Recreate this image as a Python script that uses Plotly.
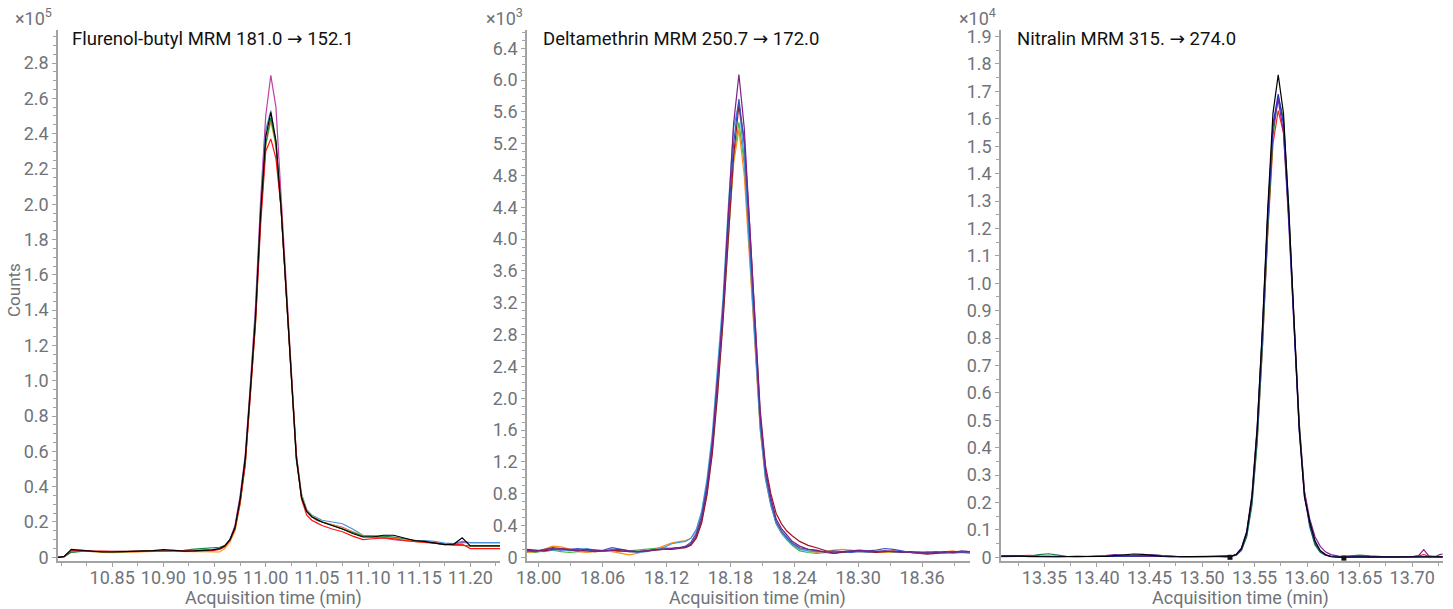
import plotly.graph_objects as go

# ---------------- Panel 1: Flurenol-butyl (counts x1e5) ----------------
P1_TIME = [10.797, 10.803, 10.810, 10.820, 10.830, 10.840, 10.850, 10.860, 10.870, 10.880,
           10.890, 10.900, 10.910, 10.920, 10.930, 10.940, 10.948,
           10.955, 10.960, 10.965, 10.970, 10.975, 10.980, 10.985, 10.990, 10.995, 11.000,
           11.005, 11.010, 11.015, 11.020, 11.025, 11.030, 11.035, 11.040, 11.045, 11.050,
           11.055, 11.065, 11.075, 11.085, 11.095, 11.105, 11.115, 11.125, 11.135, 11.145,
           11.155, 11.165, 11.175, 11.184, 11.192, 11.200, 11.229]
P1_MAGENTA = [0, 0.003, 0.030, 0.035, 0.033, 0.032, 0.031, 0.030, 0.031, 0.034, 0.036, 0.038, 0.037, 0.035, 0.036, 0.039, 0.041,
              0.048, 0.062, 0.10, 0.18, 0.35, 0.58, 0.98, 1.42, 2.02, 2.50, 2.73, 2.55, 2.05, 1.54, 1.02, 0.57, 0.35, 0.27, 0.235, 0.21,
              0.20, 0.185, 0.17, 0.145, 0.12, 0.115, 0.11, 0.10, 0.095, 0.09, 0.085, 0.08, 0.075, 0.075, 0.085, 0.083, 0.083]
P1_BLUE = [0, 0.003, 0.035, 0.038, 0.032, 0.031, 0.032, 0.033, 0.034, 0.036, 0.039, 0.042, 0.040, 0.036, 0.037, 0.040, 0.043,
           0.05, 0.066, 0.10, 0.17, 0.33, 0.56, 0.96, 1.38, 1.97, 2.42, 2.53, 2.35, 1.98, 1.50, 1.01, 0.58, 0.36, 0.27, 0.24, 0.225,
           0.21, 0.20, 0.19, 0.16, 0.125, 0.12, 0.115, 0.11, 0.10, 0.09, 0.095, 0.09, 0.08, 0.078, 0.09, 0.083, 0.083]
P1_ORANGE = [0, 0.003, 0.032, 0.036, 0.034, 0.028, 0.027, 0.029, 0.031, 0.032, 0.033, 0.035, 0.034, 0.033, 0.032, 0.033, 0.030,
             0.030, 0.05, 0.085, 0.15, 0.30, 0.52, 0.92, 1.33, 1.92, 2.33, 2.47, 2.33, 1.98, 1.50, 1.00, 0.56, 0.35, 0.265, 0.235, 0.215,
             0.20, 0.185, 0.165, 0.145, 0.125, 0.12, 0.115, 0.11, 0.10, 0.09, 0.085, 0.08, 0.072, 0.07, 0.068, 0.064, 0.064]
P1_GREEN = [0, 0.004, 0.028, 0.034, 0.033, 0.031, 0.030, 0.031, 0.033, 0.034, 0.037, 0.040, 0.039, 0.040, 0.046, 0.052, 0.054,
            0.057, 0.066, 0.095, 0.16, 0.31, 0.53, 0.92, 1.33, 1.92, 2.34, 2.49, 2.34, 1.97, 1.49, 0.99, 0.55, 0.34, 0.26, 0.23, 0.21,
            0.20, 0.18, 0.16, 0.14, 0.12, 0.12, 0.12, 0.115, 0.105, 0.095, 0.088, 0.08, 0.072, 0.07, 0.065, 0.064, 0.064]
P1_RED = [0, 0.003, 0.038, 0.040, 0.036, 0.033, 0.033, 0.034, 0.035, 0.034, 0.036, 0.038, 0.037, 0.036, 0.036, 0.037, 0.038,
          0.045, 0.06, 0.095, 0.16, 0.31, 0.53, 0.92, 1.32, 1.88, 2.30, 2.37, 2.26, 1.98, 1.54, 1.04, 0.58, 0.33, 0.24, 0.21, 0.195,
          0.18, 0.16, 0.145, 0.12, 0.10, 0.105, 0.11, 0.105, 0.095, 0.09, 0.088, 0.082, 0.075, 0.07, 0.075, 0.049, 0.049]
P1_BLACK = [0, 0.005, 0.045, 0.040, 0.033, 0.030, 0.030, 0.031, 0.033, 0.035, 0.038, 0.043, 0.038, 0.035, 0.036, 0.038, 0.042,
            0.050, 0.065, 0.10, 0.17, 0.33, 0.56, 0.95, 1.36, 1.95, 2.38, 2.52, 2.36, 1.98, 1.50, 1.00, 0.56, 0.34, 0.26, 0.23, 0.215,
            0.20, 0.18, 0.16, 0.135, 0.115, 0.115, 0.125, 0.125, 0.11, 0.095, 0.09, 0.082, 0.072, 0.075, 0.11, 0.065, 0.065]

# ---------------- Panel 2: Deltamethrin (counts x1e3) ----------------
P2_TIME = [17.989, 17.997, 18.005, 18.013, 18.021, 18.029, 18.037, 18.045, 18.053, 18.061,
           18.069, 18.077, 18.085, 18.093, 18.101, 18.109, 18.117, 18.125, 18.133,
           18.138, 18.143, 18.148, 18.153, 18.158, 18.163, 18.168, 18.173, 18.178, 18.183, 18.188,
           18.193, 18.198, 18.203, 18.208, 18.213, 18.218, 18.223, 18.228, 18.233, 18.238,
           18.245, 18.253, 18.261, 18.269, 18.277, 18.285, 18.293, 18.301, 18.309, 18.317,
           18.325, 18.333, 18.341, 18.349, 18.357, 18.365, 18.373, 18.381, 18.389, 18.397, 18.405]
P2_PURPLE = [0.09, 0.08, 0.09, 0.12, 0.11, 0.09, 0.08, 0.10, 0.09, 0.08, 0.09, 0.10, 0.08, 0.07, 0.08, 0.09, 0.10, 0.11, 0.12,
             0.13, 0.17, 0.27, 0.48, 0.85, 1.40, 2.20, 3.10, 4.30, 5.45, 6.07, 5.40, 4.20, 2.95, 1.80, 1.10, 0.75, 0.48, 0.36, 0.28, 0.20,
             0.14, 0.10, 0.09, 0.06, 0.05, 0.07, 0.08, 0.09, 0.08, 0.07, 0.08, 0.07, 0.06, 0.07, 0.06, 0.05, 0.06, 0.07, 0.06, 0.08, 0.07]
P2_DARKBLUE = [0.08, 0.07, 0.10, 0.11, 0.09, 0.10, 0.11, 0.09, 0.08, 0.09, 0.12, 0.10, 0.08, 0.07, 0.08, 0.10, 0.10, 0.11, 0.12,
               0.14, 0.19, 0.30, 0.52, 0.90, 1.45, 2.22, 3.10, 4.20, 5.20, 5.76, 5.20, 4.05, 2.85, 1.72, 1.05, 0.70, 0.45, 0.33, 0.25, 0.18,
               0.12, 0.10, 0.08, 0.07, 0.08, 0.07, 0.06, 0.07, 0.08, 0.09, 0.11, 0.10, 0.08, 0.06, 0.05, 0.06, 0.07, 0.06, 0.07, 0.06, 0.07]
P2_LIGHTBLUE = [0.07, 0.08, 0.07, 0.09, 0.10, 0.08, 0.10, 0.11, 0.09, 0.08, 0.09, 0.08, 0.07, 0.06, 0.07, 0.09, 0.12, 0.17, 0.19,
                0.20, 0.24, 0.35, 0.58, 0.98, 1.55, 2.35, 3.25, 4.40, 5.40, 5.72, 5.00, 3.85, 2.70, 1.62, 0.98, 0.65, 0.42, 0.31, 0.23, 0.16,
                0.10, 0.08, 0.07, 0.07, 0.06, 0.07, 0.08, 0.07, 0.06, 0.07, 0.08, 0.07, 0.06, 0.07, 0.06, 0.07, 0.06, 0.05, 0.06, 0.07, 0.06]
P2_DARKRED = [0.10, 0.09, 0.08, 0.10, 0.11, 0.10, 0.09, 0.08, 0.07, 0.08, 0.09, 0.08, 0.07, 0.07, 0.08, 0.09, 0.10, 0.10, 0.11,
              0.12, 0.15, 0.24, 0.43, 0.78, 1.30, 2.05, 2.95, 4.05, 5.05, 5.68, 5.25, 4.20, 3.00, 1.85, 1.15, 0.80, 0.55, 0.42, 0.33, 0.27,
              0.20, 0.15, 0.12, 0.08, 0.05, 0.06, 0.07, 0.08, 0.07, 0.06, 0.07, 0.08, 0.07, 0.06, 0.05, 0.04, 0.05, 0.06, 0.07, 0.06, 0.07]
P2_GREEN = [0.07, 0.06, 0.08, 0.09, 0.07, 0.06, 0.07, 0.08, 0.09, 0.08, 0.08, 0.07, 0.08, 0.09, 0.10, 0.11, 0.12, 0.11, 0.12,
            0.13, 0.16, 0.25, 0.45, 0.80, 1.33, 2.10, 2.98, 4.05, 5.00, 5.47, 4.95, 3.90, 2.75, 1.65, 1.00, 0.66, 0.42, 0.30, 0.22, 0.15,
            0.08, 0.06, 0.05, 0.06, 0.07, 0.06, 0.07, 0.08, 0.07, 0.06, 0.07, 0.06, 0.07, 0.06, 0.07, 0.06, 0.05, 0.06, 0.05, 0.06, 0.05]
P2_ORANGE = [0.06, 0.07, 0.10, 0.14, 0.13, 0.10, 0.07, 0.06, 0.07, 0.08, 0.07, 0.05, 0.03, 0.05, 0.08, 0.10, 0.14, 0.18, 0.20,
             0.21, 0.24, 0.33, 0.55, 0.92, 1.45, 2.22, 3.08, 4.10, 4.95, 5.38, 4.80, 3.75, 2.65, 1.60, 0.98, 0.66, 0.43, 0.32, 0.24, 0.17,
             0.11, 0.08, 0.06, 0.07, 0.09, 0.10, 0.09, 0.07, 0.06, 0.07, 0.06, 0.07, 0.06, 0.07, 0.06, 0.05, 0.06, 0.07, 0.08, 0.06, 0.07]

# ---------------- Panel 3: Nitralin (counts x1e4) ----------------
P3_TIME = [13.309, 13.318, 13.327, 13.336, 13.345, 13.354, 13.363, 13.372, 13.381, 13.390,
           13.399, 13.408, 13.417, 13.426, 13.435, 13.444, 13.453, 13.462, 13.471, 13.480,
           13.490, 13.500, 13.510, 13.517,
           13.5225, 13.5275, 13.5325, 13.5375, 13.5425, 13.5475, 13.5525, 13.5575, 13.5625, 13.5675, 13.5725,
           13.5775, 13.5825, 13.5875, 13.5925, 13.5975, 13.6025, 13.6075, 13.6125, 13.6175, 13.6225,
           13.630, 13.640, 13.650, 13.660, 13.670, 13.680, 13.690, 13.700, 13.706, 13.711, 13.716, 13.722, 13.726, 13.729]
P3_RED = [0.004, 0.005, 0.006, 0.007, 0.005, 0.004, 0.003, 0.003, 0.004, 0.003, 0.003, 0.004, 0.003, 0.004, 0.003, 0.003, 0.004, 0.003, 0.002, 0.002, 0.002, 0.002, 0.002, 0.002,
          0.001, 0.003, 0.008, 0.026, 0.08, 0.20, 0.43, 0.77, 1.18, 1.51, 1.63, 1.55, 1.25, 0.85, 0.49, 0.24, 0.12, 0.05, 0.02, 0.008, 0.003,
          0.002, 0.002, 0.003, 0.002, 0.002, 0.003, 0.002, 0.003, 0.005, 0.010, 0.004, 0.003, 0.004, 0.003]
P3_GREEN = [0.002, 0.003, 0.002, 0.004, 0.010, 0.013, 0.008, 0.003, 0.002, 0.002, 0.003, 0.002, 0.003, 0.004, 0.005, 0.006, 0.009, 0.006, 0.003, 0.002, 0.002, 0.001, 0.002, 0.002,
            0.001, 0.003, 0.008, 0.025, 0.075, 0.19, 0.42, 0.77, 1.19, 1.54, 1.68, 1.60, 1.28, 0.86, 0.49, 0.23, 0.11, 0.045, 0.018, 0.008, 0.004,
            0.002, 0.006, 0.008, 0.005, 0.002, 0.001, 0.002, 0.001, 0.001, 0.001, 0.002, 0.001, 0.001, 0.001]
P3_PURPLE = [0.004, 0.005, 0.003, 0.003, 0.002, 0.003, 0.002, 0.003, 0.003, 0.004, 0.003, 0.006, 0.010, 0.007, 0.006, 0.008, 0.009, 0.006, 0.003, 0.002, 0.002, 0.002, 0.002, 0.002,
             0.002, 0.004, 0.011, 0.034, 0.095, 0.23, 0.48, 0.83, 1.25, 1.57, 1.67, 1.55, 1.22, 0.82, 0.47, 0.24, 0.14, 0.075, 0.04, 0.02, 0.01,
             0.004, 0.003, 0.002, 0.002, 0.002, 0.001, 0.002, 0.002, 0.006, 0.028, 0.004, 0.002, 0.010, 0.012]
P3_BLUE = [0.003, 0.004, 0.004, 0.002, 0.001, 0.002, 0.003, 0.002, 0.002, 0.003, 0.002, 0.003, 0.004, 0.003, 0.004, 0.005, 0.004, 0.003, 0.002, 0.002, 0.002, 0.002, 0.002, 0.002,
           0.002, 0.004, 0.01, 0.03, 0.09, 0.22, 0.46, 0.82, 1.24, 1.58, 1.69, 1.58, 1.24, 0.82, 0.46, 0.22, 0.12, 0.055, 0.022, 0.009, 0.003,
           0.001, 0.002, 0.002, 0.001, 0.002, 0.001, 0.001, 0.002, 0.002, 0.001, 0.001, 0.002, 0.001, 0.001]
P3_BLACK = [0.004, 0.005, 0.004, 0.003, 0.002, 0.003, 0.002, 0.003, 0.002, 0.003, 0.004, 0.003, 0.006, 0.009, 0.012, 0.011, 0.006, 0.003, 0.002, 0.002, 0.002, 0.002, 0.002, 0.002,
            0.002, 0.004, 0.010, 0.032, 0.09, 0.22, 0.47, 0.84, 1.27, 1.62, 1.76, 1.62, 1.27, 0.84, 0.47, 0.22, 0.13, 0.06, 0.025, 0.01, 0.002,
            0.001, 0.001, 0.002, 0.002, 0.001, 0.001, 0.002, 0.001, 0.001, 0.002, 0.001, 0.001, 0.002, 0.002]
P3_MARK_TIME = [13.5266, 13.6350]
P3_MARK_VAL = [0.0, -0.003]

# ---------------- tick labels ----------------
P1_XTICKS = [10.85, 10.90, 10.95, 11.00, 11.05, 11.10, 11.15, 11.20]
P2_XTICKS = [18.00, 18.06, 18.12, 18.18, 18.24, 18.30, 18.36]
P3_XTICKS = [13.35, 13.40, 13.45, 13.50, 13.55, 13.60, 13.65, 13.70]
P1_YTICKS = [0, 0.2, 0.4, 0.6, 0.8, 1.0, 1.2, 1.4, 1.6, 1.8, 2.0, 2.2, 2.4, 2.6, 2.8]
P2_YTICKS = [0, 0.4, 0.8, 1.2, 1.6, 2.0, 2.4, 2.8, 3.2, 3.6, 4.0, 4.4, 4.8, 5.2, 5.6, 6.0, 6.4]
P3_YTICKS = [0, 0.1, 0.2, 0.3, 0.4, 0.5, 0.6, 0.7, 0.8, 0.9, 1.0, 1.1, 1.2, 1.3, 1.4, 1.5, 1.6, 1.7, 1.8, 1.9]
TITLE_NAMES = ["Flurenol-butyl MRM 181.0", "Deltamethrin MRM 250.7", "Nitralin MRM 315."]
TITLE_PRODUCTS = ["152.1", "172.0", "274.0"]
EXPONENTS = ["5", "3", "4"]

W, H = 1453, 609
MT, MB = 30, 48
PH = H - MT - MB
FONT = "Roboto"
GRAY = "#707378"
AXC = "#a3a3a3"


def px(x):
    return x / W


def py(y):
    return (H - MB - y) / PH


def lab(v):
    return "0" if v == 0 else f"{v:.1f}"


panels = [
    dict(time=P1_TIME, series=[(P1_MAGENTA, "#c23fa6"), (P1_BLUE, "#4a8fd8"), (P1_ORANGE, "#ff9f1a"),
                               (P1_GREEN, "#118a43"), (P1_RED, "#ff1010"), (P1_BLACK, "#000000")],
         dom=(58, 500), xr=(10.797, 11.229), yr=(-0.021, 2.987), xt=P1_XTICKS, xminor=0.025, xm0=10.80,
         yt=P1_YTICKS, yminor=0.05, title_x=70, exp_x=54, xtitle_x=273),
    dict(time=P2_TIME, series=[(P2_GREEN, "#3cbf3c"), (P2_ORANGE, "#ff8c1a"), (P2_LIGHTBLUE, "#3d9be0"),
                               (P2_DARKRED, "#a3141e"), (P2_DARKBLUE, "#3552c4"), (P2_PURPLE, "#7d1f86")],
         dom=(527, 970), xr=(17.989, 18.405), yr=(-0.047, 6.63), xt=P2_XTICKS, xminor=0.03, xm0=18.00,
         yt=P2_YTICKS, yminor=0.1, title_x=541, exp_x=525, xtitle_x=757),
    dict(time=P3_TIME, series=[(P3_RED, "#ff2020"), (P3_GREEN, "#0f8040"), (P3_PURPLE, "#84209a"),
                               (P3_BLUE, "#2430c8"), (P3_BLACK, "#000000")],
         dom=(1001, 1443), xr=(13.3087, 13.7293), yr=(-0.0135, 1.924), xt=P3_XTICKS, xminor=0.025, xm0=13.35,
         yt=P3_YTICKS, yminor=0.05, title_x=1015, exp_x=998, xtitle_x=1240),
]

fig = go.Figure()
annotations = []
for i, p in enumerate(panels):
    n = "" if i == 0 else str(i + 1)
    for vals, col in p["series"]:
        assert len(vals) == len(p["time"])
        fig.add_trace(go.Scatter(x=p["time"], y=vals, mode="lines", xaxis="x" + n, yaxis="y" + n,
                                 line=dict(color=col, width=1.2), showlegend=False, hoverinfo="skip"))
    fig.layout["xaxis" + n] = dict(
        domain=[px(p["dom"][0]), px(p["dom"][1])], range=list(p["xr"]), anchor="y" + n,
        automargin=False,
        showline=True, linecolor=AXC, linewidth=1.5, showgrid=False, zeroline=False,
        ticks="outside", ticklen=4, tickcolor=AXC, tickwidth=1,
        tickmode="array", tickvals=p["xt"], ticktext=[f"{v:.2f}" for v in p["xt"]],
        ticklabelstandoff=-4,
        tickfont=dict(family=FONT, size=18, color=GRAY),
        minor=dict(ticks="outside", ticklen=3, tickcolor=AXC, tickmode="linear",
                   dtick=p["xminor"], tick0=p["xm0"]),
    )
    fig.layout["yaxis" + n] = dict(
        domain=[0, 1], range=list(p["yr"]), anchor="x" + n,
        automargin=False,
        showline=True, linecolor=AXC, linewidth=1.5, showgrid=False, zeroline=False,
        ticks="outside", ticklen=4, tickcolor=AXC, tickwidth=1,
        tickmode="array", tickvals=p["yt"], ticktext=[lab(v) for v in p["yt"]],
        tickfont=dict(family=FONT, size=18, color=GRAY),
        minor=dict(ticks="outside", ticklen=3, tickcolor=AXC, tickmode="linear",
                   dtick=p["yminor"], tick0=0),
    )
    title = (TITLE_NAMES[i] + " <span style=\"font-family:'DejaVu Sans'\">\u2192</span> "
             + TITLE_PRODUCTS[i])
    annotations.append(dict(text=title, x=px(p["title_x"]), y=py(39), xref="paper", yref="paper",
                            xanchor="left", yanchor="middle", showarrow=False,
                            font=dict(family=FONT, size=18.5, color="#111111")))
    annotations.append(dict(text="\u00d710<sup>" + EXPONENTS[i] + "</sup>", x=px(p["exp_x"]), y=py(17),
                            xref="paper", yref="paper", xanchor="right", yanchor="middle", showarrow=False,
                            font=dict(family=FONT, size=18, color=GRAY)))
    annotations.append(dict(text="Acquisition time (min)", x=px(p["xtitle_x"]), y=py(598),
                            xref="paper", yref="paper", xanchor="center", yanchor="middle", showarrow=False,
                            font=dict(family=FONT, size=18, color=GRAY)))

annotations.append(dict(text="Counts", x=px(14), y=py(290), xref="paper", yref="paper", textangle=-90,
                        xanchor="center", yanchor="middle", showarrow=False,
                        font=dict(family=FONT, size=17, color=GRAY)))

fig.add_trace(go.Scatter(x=P3_MARK_TIME, y=P3_MARK_VAL, mode="markers", xaxis="x3", yaxis="y3",
                         marker=dict(symbol="square", size=5, color="#111111"), showlegend=False,
                         hoverinfo="skip"))

fig.update_layout(width=W, height=H, margin=dict(l=0, r=0, t=MT, b=MB, autoexpand=False),
                  paper_bgcolor="white", plot_bgcolor="white", annotations=annotations,
                  font=dict(family=FONT))
fig.write_html("out.html")
